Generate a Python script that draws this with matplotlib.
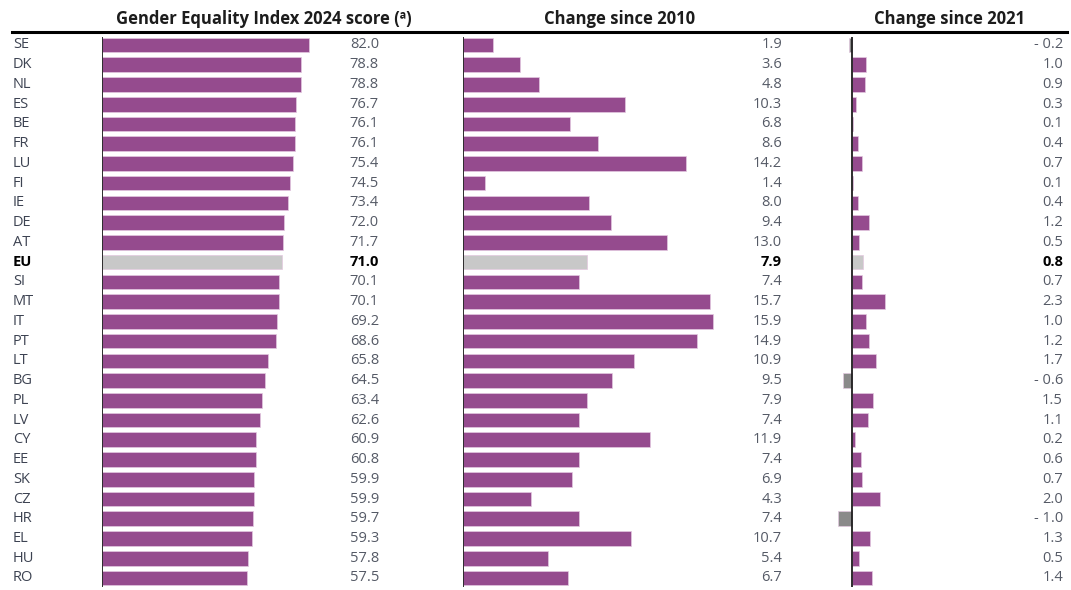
import matplotlib
matplotlib.use("Agg")
import matplotlib.pyplot as plt
from matplotlib.lines import Line2D

plt.rcParams['font.family'] = ['Open Sans', 'DejaVu Sans']

countries = ["SE", "DK", "NL", "ES", "BE", "FR", "LU", "FI", "IE", "DE", "AT", "EU",
             "SI", "MT", "IT", "PT", "LT", "BG", "PL", "LV", "CY", "EE", "SK", "CZ",
             "HR", "EL", "HU", "RO"]
score_2024 = [82.0, 78.8, 78.8, 76.7, 76.1, 76.1, 75.4, 74.5, 73.4, 72.0, 71.7, 71.0,
              70.1, 70.1, 69.2, 68.6, 65.8, 64.5, 63.4, 62.6, 60.9, 60.8, 59.9, 59.9,
              59.7, 59.3, 57.8, 57.5]
change_2010 = [1.9, 3.6, 4.8, 10.3, 6.8, 8.6, 14.2, 1.4, 8.0, 9.4, 13.0, 7.9,
               7.4, 15.7, 15.9, 14.9, 10.9, 9.5, 7.9, 7.4, 11.9, 7.4, 6.9, 4.3,
               7.4, 10.7, 5.4, 6.7]
change_2021 = [-0.2, 1.0, 0.9, 0.3, 0.1, 0.4, 0.7, 0.1, 0.4, 1.2, 0.5, 0.8,
               0.7, 2.3, 1.0, 1.2, 1.7, -0.6, 1.5, 1.1, 0.2, 0.6, 0.7, 2.0,
               -1.0, 1.3, 0.5, 1.4]
headers = ["Gender Equality Index 2024 score (\u00aa)", "Change since 2010", "Change since 2021"]

PURPLE = "#954b8e"
EU_GREY = "#c8c8c8"
NEG_GREY = "#8a8a8a"
TXT = "#555a66"
LBL = "#3d4352"

W, H = 1071, 590
fig = plt.figure(figsize=(W / 100, H / 100), dpi=100)

# pixel layout: (left px, right px, zero px, px per unit, label px)
panels = [
    (102, 392, 102, 2.53, 379),
    (463, 792, 463.3, 15.7, 782),
    (800, 1068, 852, 14.2, 1063),
]
top_px, bot_px = 37, 587
row0, step = 45, 19.74
n = len(countries)
y = list(range(n))


def fmt(v):
    return "- %.1f" % abs(v) if v < 0 else "%.1f" % v


for k, (vals, (l, r, z, s, lab)) in enumerate(zip([score_2024, change_2010, change_2021], panels)):
    ax = fig.add_axes([l / W, 1 - bot_px / H, (r - l) / W, (bot_px - top_px) / H])
    ax.set_xlim(-(z - l) / s, (r - z) / s)
    ax.set_ylim((bot_px - row0) / step, (top_px - row0) / step)
    cols = []
    for c, v in zip(countries, vals):
        if c == "EU":
            cols.append(EU_GREY)
        elif v < 0:
            cols.append(NEG_GREY)
        else:
            cols.append(PURPLE)
    ax.barh(y, vals, height=0.74, color=cols, edgecolor="#e3c9e0", linewidth=0.5)
    ax.axvline(0, color="#1e1e1e", lw=1.3)
    lx = (lab - z) / s
    for i, v in enumerate(vals):
        eu = countries[i] == "EU"
        ax.text(lx, i, fmt(v), ha="right", va="center", fontsize=10.5,
                color="black" if eu else TXT, fontweight="bold" if eu else "normal")
    if k == 0:
        cx = (13 - z) / s
        for i, c in enumerate(countries):
            eu = c == "EU"
            ax.text(cx, i, c, ha="left", va="center", fontsize=10.5,
                    color="black" if eu else LBL, fontweight="bold" if eu else "normal")
    ax.axis("off")

# headers and rule
for hx, txt in zip([264, 620, 949], headers):
    fig.text(hx / W, 1 - 19 / H, txt, ha="center", va="center", fontsize=12,
             fontweight="bold", color="#1c1c1c")
fig.add_artist(Line2D([12 / W, 1067 / W], [1 - 32 / H, 1 - 32 / H], color="black", lw=2.2))

fig.savefig("out.png", dpi=100)
